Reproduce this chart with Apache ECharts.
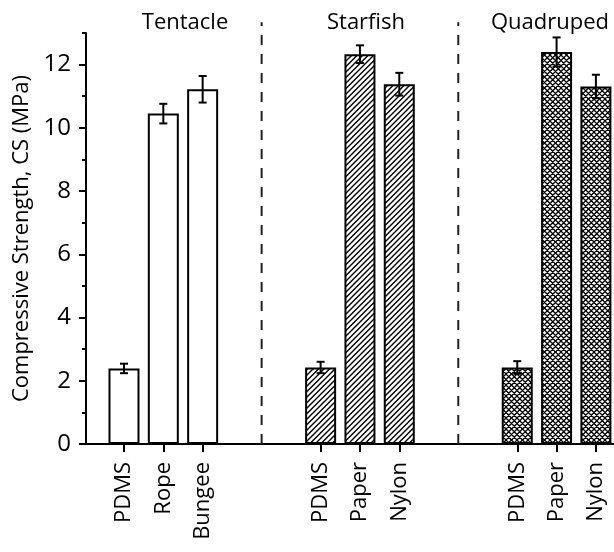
<!DOCTYPE html>
<html>
<head>
<meta charset="utf-8">
<script src="https://cdn.jsdelivr.net/npm/echarts@6/dist/echarts.min.js"></script>
<style>html,body{margin:0;padding:0;background:#fff}#c{width:614px;height:552px}</style>
</head>
<body>
<div id="c"></div>
<script>
// ---- data ----
const groupNames = ['Tentacle', 'Starfish', 'Quadruped'];
const tentacleMaterials = ['PDMS', 'Rope', 'Bungee'];
const starfishMaterials = ['PDMS', 'Paper', 'Nylon'];
const quadrupedMaterials = ['PDMS', 'Paper', 'Nylon'];
const tentacleCS = [2.39, 10.45, 11.22];
const tentacleErr = [0.15, 0.31, 0.42];
const starfishCS = [2.42, 12.33, 11.38];
const starfishErr = [0.18, 0.28, 0.36];
const quadrupedCS = [2.42, 12.40, 11.31];
const quadrupedErr = [0.20, 0.46, 0.37];
// slot index of each material along the x axis (two empty slots between groups)
const tentacleSlots = [1, 2, 3];
const starfishSlots = [6, 7, 8];
const quadrupedSlots = [11, 12, 13];
const separatorSlots = [4.5, 9.5];
const yMajorTicks = [0, 2, 4, 6, 8, 10, 12];
const yMinorTicks = [1, 3, 5, 7, 9, 11, 13];
const yTitle = 'Compressive Strength, CS (MPa)';

// ---- fills ----
function linePattern(both, lw) {
  const s = 11, c = document.createElement('canvas');
  c.width = s; c.height = s;
  const g = c.getContext('2d');
  g.fillStyle = '#fff'; g.fillRect(0, 0, s, s);
  g.strokeStyle = '#000'; g.lineWidth = lw;
  g.beginPath();
  [-s, -s / 2, 0, s / 2, s].forEach(o => {
    g.moveTo(o - 1, s + 1); g.lineTo(o + s + 1, -1);
    if (both) { g.moveTo(o - 1, -1); g.lineTo(o + s + 1, s + 1); }
  });
  g.stroke();
  return { image: c, repeat: 'repeat' };
}
const fills = ['#ffffff', linePattern(false, 1.4), linePattern(true, 1.3)];

const groups = [
  { mats: tentacleMaterials, cs: tentacleCS, err: tentacleErr, slots: tentacleSlots },
  { mats: starfishMaterials, cs: starfishCS, err: starfishErr, slots: starfishSlots },
  { mats: quadrupedMaterials, cs: quadrupedCS, err: quadrupedErr, slots: quadrupedSlots }
];
const labelMap = {};
const barData = [];
const errData = [];
const allSlots = [];
groups.forEach((g, gi) => {
  g.mats.forEach((m, i) => {
    labelMap[g.slots[i]] = m;
    allSlots.push(g.slots[i]);
    barData.push({ value: [g.slots[i], g.cs[i]], itemStyle: { color: fills[gi] } });
    errData.push([g.slots[i], g.cs[i], g.err[i]]);
  });
});

const FONT = 'Open Sans';
const chart = echarts.init(document.getElementById('c'), null, { renderer: 'canvas' });
chart.setOption({
  animation: false,
  backgroundColor: '#fff',
  textStyle: { fontFamily: FONT, color: '#000' },
  grid: { left: 86, right: 0, top: 33, bottom: 108 },
  xAxis: {
    type: 'value', min: 0.034, max: 13.46,
    splitLine: { show: false },
    axisLine: { lineStyle: { color: '#000', width: 2 } },
    axisTick: { customValues: allSlots, length: 8, lineStyle: { color: '#000', width: 2 } },
    axisLabel: {
      customValues: allSlots, rotate: 90, margin: 18, fontSize: 22, color: '#000', fontFamily: FONT,
      formatter: v => labelMap[Math.round(v)] || ''
    }
  },
  yAxis: [
    {
      type: 'value', min: 0, max: 13,
      name: yTitle, nameLocation: 'middle', nameGap: 48,
      nameTextStyle: { fontSize: 22, color: '#000', fontFamily: FONT },
      splitLine: { show: false },
      axisLine: { show: true, lineStyle: { color: '#000', width: 2 } },
      axisTick: { show: true, customValues: yMajorTicks, length: 7, lineStyle: { color: '#000', width: 2 } },
      axisLabel: { customValues: yMajorTicks, margin: 15, fontSize: 24, color: '#000', fontFamily: FONT }
    },
    {
      type: 'value', min: 0, max: 13, position: 'left',
      splitLine: { show: false },
      axisLine: { show: false },
      axisTick: { show: true, customValues: yMinorTicks, length: 4, lineStyle: { color: '#000', width: 2 } },
      axisLabel: { show: false }
    }
  ],
  graphic: [
    { type: 'text', x: 185, y: 23, style: { text: groupNames[0], font: '22px "Open Sans"', fill: '#000', textAlign: 'center', textVerticalAlign: 'middle' } },
    { type: 'text', x: 366, y: 23, style: { text: groupNames[1], font: '22px "Open Sans"', fill: '#000', textAlign: 'center', textVerticalAlign: 'middle' } },
    { type: 'text', x: 550, y: 23, style: { text: groupNames[2], font: '22px "Open Sans"', fill: '#000', textAlign: 'center', textVerticalAlign: 'middle' } }
  ],
  series: [
    {
      type: 'bar', barWidth: 31, data: barData,
      itemStyle: { borderColor: '#000', borderWidth: 2 }
    },
    {
      type: 'custom', data: errData, z: 5,
      encode: { x: 0, y: 1 },
      renderItem: (params, api) => {
        const x = api.value(0), m = api.value(1), e = api.value(2);
        const t = api.coord([x, m + e]), b = api.coord([x, m - e]);
        const hw = 4;
        const st = { stroke: '#000', lineWidth: 2 };
        return {
          type: 'group', children: [
            { type: 'line', shape: { x1: t[0], y1: t[1], x2: b[0], y2: b[1] }, style: st },
            { type: 'line', shape: { x1: t[0] - hw, y1: t[1], x2: t[0] + hw, y2: t[1] }, style: st },
            { type: 'line', shape: { x1: b[0] - hw, y1: b[1], x2: b[0] + hw, y2: b[1] }, style: st }
          ]
        };
      }
    },
    {
      type: 'custom', data: separatorSlots.map(s => [s]), z: 1,
      encode: { x: 0 },
      renderItem: (params, api) => {
        const x = api.value(0);
        const p0 = api.coord([x, 0]), p1 = api.coord([x, 13.34]);
        return {
          type: 'line', shape: { x1: p0[0], y1: p0[1], x2: p1[0], y2: p1[1] },
          style: { stroke: '#222', lineWidth: 2, lineDash: [10, 9] }
        };
      }
    }
  ]
});
</script>
</body>
</html>
